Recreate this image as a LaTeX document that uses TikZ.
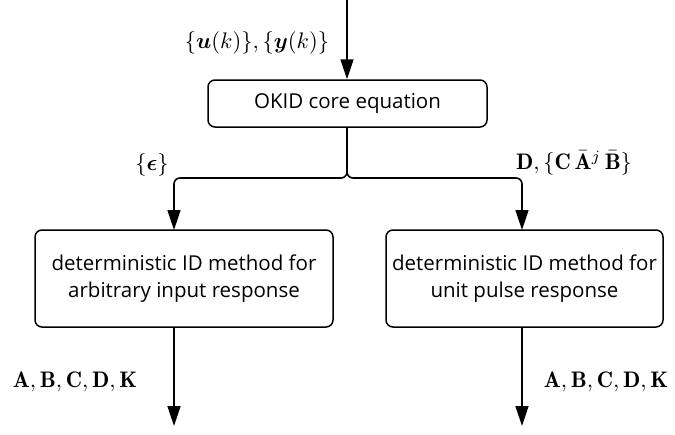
\documentclass[tikz,border=0pt]{standalone}
\usepackage{amsmath,bm}
\usepackage{fontspec}
\newfontfamily\boxfont{Open Sans}
\usetikzlibrary{arrows.meta}
\begin{document}
\begin{tikzpicture}[x=1pt,y=-1pt,
  box/.style={draw,line width=1.5pt,rounded corners=7pt,align=center,
    font=\boxfont\fontsize{20.5}{27}\selectfont,inner sep=0pt},
  flow/.style={line width=1.6pt,-{Triangle[length=20pt,width=13pt]}},
  lbl/.style={scale=2.25,transform shape,inner sep=0pt}]
\useasboundingbox (0,0) rectangle (675,434);
\node[box,minimum width=279pt,minimum height=47pt] (okid) at (347.5,103.5) {OKID core equation};
\node[box,minimum width=298pt,minimum height=97pt] (arb) at (184,278.5)
  {deterministic ID method for\\arbitrary input response};
\node[box,minimum width=277pt,minimum height=97pt] (pulse) at (524.5,278.5)
  {deterministic ID method for\\unit pulse response};
\coordinate (top) at (347,0);
\coordinate (split) at (347,178);
\coordinate (outA) at (174,426);
\coordinate (outB) at (522,426);
\draw[flow] (top) -- (okid.north -| top);
\draw[flow,rounded corners=6pt] (okid.south -| split) -- (split) -| (174,230);
\draw[flow,rounded corners=6pt] (okid.south -| split) -- (split) -| (522,230);
\draw[flow] (arb.south -| outA) -- (outA);
\draw[flow] (pulse.south -| outB) -- (outB);
\node[lbl] (in) at (257,43) {$\{\bm{u}(k)\},\{\bm{y}(k)\}$};
\node[lbl] (eps) at (152,165) {$\{\bm{\epsilon}\}$};
\node[lbl] (mk) at (574,163) {$\mathbf{D},\{\mathbf{C}\,\bar{\mathbf{A}}^{j}\,\bar{\mathbf{B}}\}$};
\node[lbl] (resA) at (75,382) {$\mathbf{A},\mathbf{B},\mathbf{C},\mathbf{D},\mathbf{K}$};
\node[lbl] (resB) at (606,382) {$\mathbf{A},\mathbf{B},\mathbf{C},\mathbf{D},\mathbf{K}$};
\end{tikzpicture}
\end{document}
